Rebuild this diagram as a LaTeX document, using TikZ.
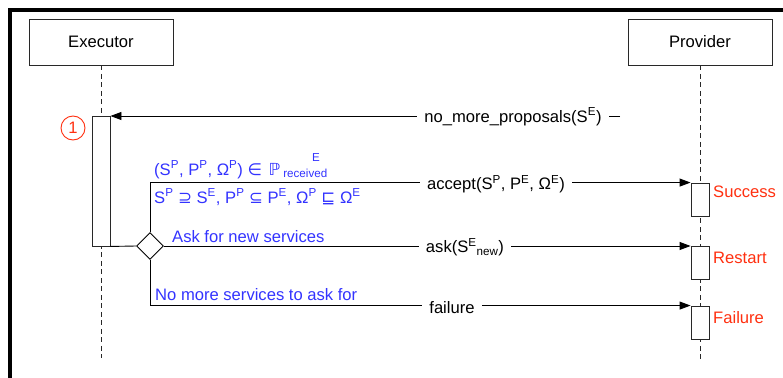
\documentclass[tikz,border=0pt]{standalone}
\usepackage{fontspec}
\setmainfont{Liberation Sans}
\newfontfamily\symfont{DejaVu Sans}
\usetikzlibrary{arrows.meta,shapes.geometric}
\definecolor{ctlblue}{RGB}{51,51,255}
\definecolor{outred}{RGB}{255,48,16}
\definecolor{edgegray}{RGB}{40,40,40}
\newcommand\sps[1]{\textsuperscript{#1}}
\newcommand\sbs[1]{\textsubscript{#1}}

\begin{document}
\begin{tikzpicture}[x=1pt,y=-1pt,
  every node/.style={font=\fontsize{16.6}{19}\selectfont, inner sep=0pt},
  actor/.style={draw=edgegray, line width=0.9pt, minimum width=144pt, minimum height=46pt},
  actbox/.style={draw=edgegray, fill=white, line width=0.9pt, minimum width=18pt},
  lifeline/.style={draw=edgegray, line width=0.9pt, dash pattern=on 5pt off 3.5pt},
  msg/.style={draw=black, line width=0.9pt, -{Triangle[length=11pt,width=8pt]}},
  flow/.style={draw=black, line width=0.9pt},
  msglabel/.style={fill=white, inner xsep=7pt, inner ysep=1pt, anchor=base},
  guard/.style={text=ctlblue, anchor=base west},
  outcome/.style={text=outred, anchor=base west},
]
\useasboundingbox (0,0) rectangle (783,377);

% outer frame (only its left and top edges fall on the page)
\draw[line width=3.2pt] (10,390) -- (10,10) -- (795,10);

% participants
\node[actor] (exec) at (101,42) {Executor};
\node[actor] (prov) at (700,42) {Provider};

% lifelines
\coordinate (execend) at (101,358);
\coordinate (provend) at (700,361);
\draw[lifeline] (exec.south) -- (execend);
\draw[lifeline] (prov.south) -- (provend);

% activation bars
\node[actbox, minimum height=130pt] (eact) at (101,181) {};
\node[actbox, minimum height=33pt] (succ) at (700,199.5) {};
\node[actbox, minimum height=33pt] (rest) at (700,262.5) {};
\node[actbox, minimum height=33pt] (fail) at (700,322.5) {};

% step marker
\node[draw=outred, text=outred, circle, line width=0.9pt, minimum size=24pt] (step) at (73,128) {1};

% incoming request
\coordinate (npstart) at (620,116);
\draw[msg] (npstart) -- (eact.east |- npstart);
\node[msglabel] (nplabel) at (513,122) {no\_more\_proposals(S\sps{E})};

% decision
\node[diamond, draw=black, fill=white, line width=0.9pt, minimum size=27pt, aspect=1] (dec) at (150,246) {};
\draw[flow] (eact.south east) -- (dec.west);

% branches
\draw[msg] (dec.north) |- (succ.north west);
\draw[msg] (dec.east) -- (dec.east -| rest.west);
\draw[msg] (dec.south) |- (fail.north west);

% message labels
\node[msglabel] (acclabel) at (496,189.5) {accept(S\sps{P}, P\sps{E}, Ω\sps{E})};
\node[msglabel] (asklabel) at (465,252.5) {ask(S\sps{E}\sbs{new})};
\node[msglabel] (faillabel) at (452,313) {failure};

% guards
\node[guard] (g1) at (154,175) {(S\sps{P}, P\sps{P}, Ω\sps{P}) {\symfont ∈}\hspace{2pt} {\symfont ℙ}\hspace{3pt}\sbs{received}\llap{\raisebox{14pt}{\fontsize{11.6}{12}\selectfont E}\hspace{8pt}}};
\node[guard] (g2) at (154,203) {S\sps{P} {\symfont ⊇} S\sps{E}, P\sps{P} {\symfont ⊆} P\sps{E}, Ω\sps{P} {\symfont ⊑} Ω\sps{E}};
\node[guard] (g3) at (172,242) {Ask for new services};
\node[guard] (g4) at (155,300) {No more services to ask for};

% outcomes
\node[outcome] (o1) at (713,197) {Success};
\node[outcome] (o2) at (713,263) {Restart};
\node[outcome] (o3) at (713,323) {Failure};
\end{tikzpicture}
\end{document}
